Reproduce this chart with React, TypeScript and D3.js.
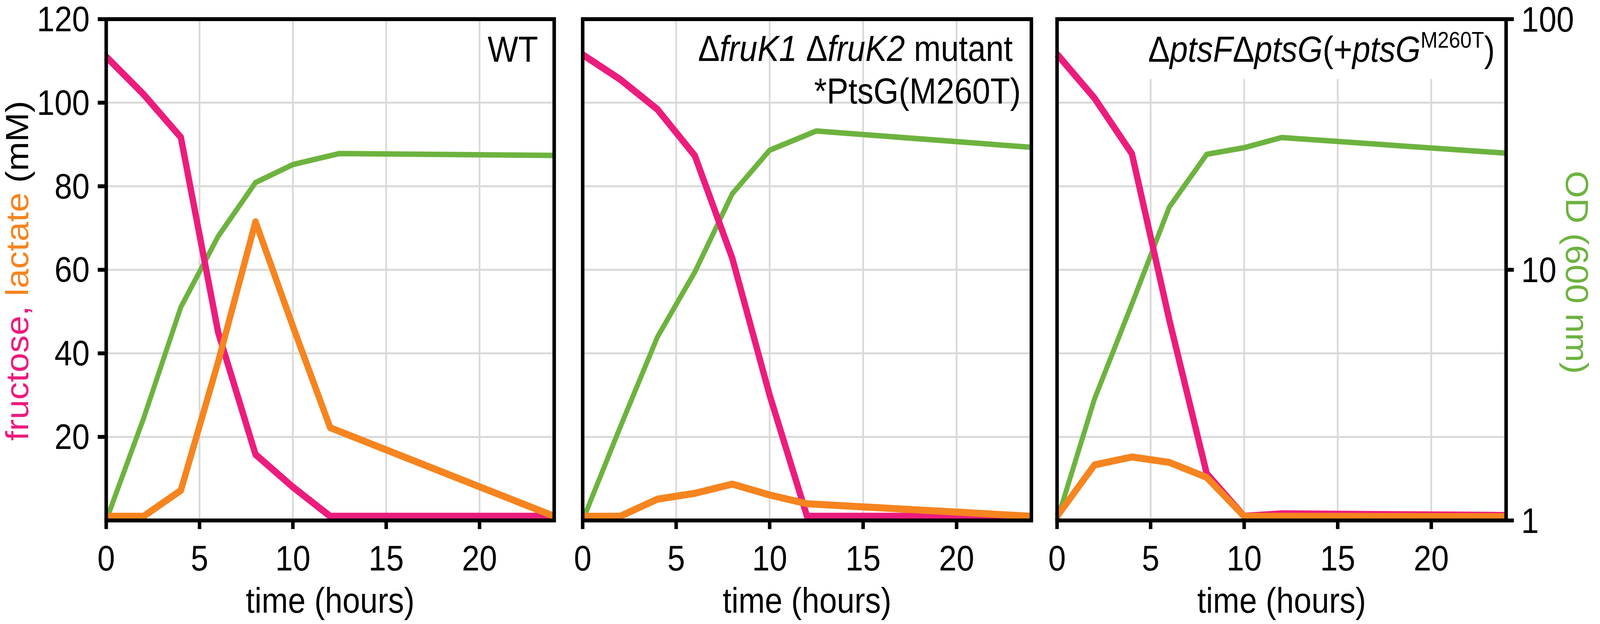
import React from "react";
import * as d3 from "d3";

// ---------- data ----------
const xTicks = [0, 5, 10, 15, 20];
const leftTicks = [20, 40, 60, 80, 100, 120];
const gridValues = [20, 40, 60, 80, 100];
const odTicks = [1, 10, 100];

// Panel 1: WT
const wtFructoseT = [0, 2, 4, 6, 8, 10, 12, 24];
const wtFructose = [111, 102, 91.7, 45, 15.8, 8, 1, 1];
const wtLactateT = [0, 2, 4, 6, 8, 10, 12, 24];
const wtLactate = [1, 1, 7.2, 38, 71.5, 46.5, 22.2, 1];
const wtOdT = [0, 2, 4, 6, 8, 10, 12.5, 24];
const wtOd = [1, 2.55, 7.1, 13.6, 22.3, 26.3, 29.1, 28.6];

// Panel 2: ΔfruK1 ΔfruK2 mutant *PtsG(M260T)
const fkFructoseT = [0, 2, 4, 6, 8, 10, 12, 24];
const fkFructose = [111.5, 105.6, 98.4, 87.3, 62.8, 30, 1, 1];
const fkLactateT = [0, 2, 4, 6, 8, 10, 12, 24];
const fkLactate = [1, 1, 5.1, 6.5, 8.7, 6.1, 4.0, 1];
const fkOdT = [0, 2, 4, 6, 8, 10, 12.5, 24];
const fkOd = [1, 2.35, 5.4, 9.8, 20.1, 30.0, 35.8, 30.8];

// Panel 3: ΔptsFΔptsG(+ptsG M260T)
const ptFructoseT = [0, 2, 4, 6, 8, 10, 12, 24];
const ptFructose = [111.6, 101.1, 87.8, 48, 11.2, 1, 1.6, 1.2];
const ptLactateT = [0, 2, 4, 6, 8, 10, 24];
const ptLactate = [1, 13.3, 15.2, 13.9, 10.3, 1, 0.9];
const ptOdT = [0, 2, 4, 6, 8, 10, 12, 24];
const ptOd = [1, 3.05, 7.3, 17.8, 28.9, 30.7, 33.7, 29.2];

// ---------- style ----------
const PINK = "#EC1C7D";
const ORANGE = "#F6841F";
const GREEN = "#6DB33F";
const GRID = "#d9d9d9";
const FONT = "'Liberation Sans', Arial, Helvetica, sans-serif";
const FS = 90;

const W = 4550;
const H = 1597;
const TOP = 49;
const BOTTOM = 1332;

const panels = [
  { x0: 302, x1: 1576, fT: wtFructoseT, f: wtFructose, lT: wtLactateT, l: wtLactate, oT: wtOdT, o: wtOd },
  { x0: 1657, x1: 2933, fT: fkFructoseT, f: fkFructose, lT: fkLactateT, l: fkLactate, oT: fkOdT, o: fkOd },
  { x0: 3006, x1: 4283, fT: ptFructoseT, f: ptFructose, lT: ptLactateT, l: ptLactate, oT: ptOdT, o: ptOd },
];

const yLin = d3.scaleLinear().domain([0, 120]).range([BOTTOM, TOP]);
const yLog = d3.scaleLog().domain([1, 100]).range([BOTTOM, TOP]);

function Panel({ p, idx }: { p: any; idx: number }) {
  const x = d3.scaleLinear().domain([0, 24]).range([p.x0, p.x1]);
  const lineLin = d3
    .line<[number, number]>()
    .x((d) => x(d[0]))
    .y((d) => yLin(d[1]));
  const lineLog = d3
    .line<[number, number]>()
    .x((d) => x(d[0]))
    .y((d) => yLog(d[1]));
  const fr = p.fT.map((t: number, i: number) => [t, p.f[i]] as [number, number]);
  const la = p.lT.map((t: number, i: number) => [t, p.l[i]] as [number, number]);
  const od = p.oT.map((t: number, i: number) => [t, p.o[i]] as [number, number]);

  return (
    <g>
      {/* grid */}
      {gridValues.map((v) => (
        <line key={"gy" + v} x1={p.x0} x2={p.x1} y1={yLin(v)} y2={yLin(v)} stroke={GRID} strokeWidth={5} />
      ))}
      {xTicks
        .filter((t) => t > 0)
        .map((t) => (
          <line key={"gx" + t} x1={x(t)} x2={x(t)} y1={TOP} y2={BOTTOM} stroke={GRID} strokeWidth={5} />
        ))}
      {idx === 2 && <rect x={3240} y={TOP + 5} width={1030} height={148} fill="#fff" />}

      {/* labels inside */}
      {idx === 0 && (
        <text x={1530} y={158} textAnchor="end" fontSize={92} fontFamily={FONT} fill="#000">
          WT
        </text>
      )}
      {idx === 1 && (
        <g fontSize={92} fontFamily={FONT} fill="#000">
          <text x={2880} y={156} textAnchor="end">
            <tspan>Δ</tspan>
            <tspan fontStyle="italic">fruK1</tspan>
            <tspan>{" Δ"}</tspan>
            <tspan fontStyle="italic">fruK2</tspan>
            <tspan>{" mutant"}</tspan>
          </text>
          <text x={2903} y={265} textAnchor="end">
            *PtsG(M260T)
          </text>
        </g>
      )}
      {idx === 2 && (
        <text x={4251} y={158} textAnchor="end" fontSize={92} fontFamily={FONT} fill="#000">
          <tspan>Δ</tspan>
          <tspan fontStyle="italic">ptsF</tspan>
          <tspan>Δ</tspan>
          <tspan fontStyle="italic">ptsG</tspan>
          <tspan>(+</tspan>
          <tspan fontStyle="italic">ptsG</tspan>
          <tspan fontSize={58} dy={-36}>
            M260T
          </tspan>
          <tspan dy={36}>)</tspan>
        </text>
      )}

      {/* data */}
      <path d={lineLog(od) || ""} fill="none" stroke={GREEN} strokeWidth={14} strokeLinejoin="round" />
      <path d={lineLin(fr) || ""} fill="none" stroke={PINK} strokeWidth={18} strokeLinejoin="round" />
      <path d={lineLin(la) || ""} fill="none" stroke={ORANGE} strokeWidth={18} strokeLinejoin="round" />

      {/* frame */}
      <rect x={p.x0} y={TOP} width={p.x1 - p.x0} height={BOTTOM - TOP} fill="none" stroke="#000" strokeWidth={10} />

      {/* bottom ticks */}
      {xTicks.map((t) => (
        <g key={"xt" + t}>
          <line x1={x(t)} x2={x(t)} y1={BOTTOM} y2={1354} stroke="#000" strokeWidth={10} />
          <text x={x(t)} y={1460} textAnchor="middle" fontSize={FS} fontFamily={FONT} fill="#000">
            {t}
          </text>
        </g>
      ))}
      <text x={(p.x0 + p.x1) / 2} y={1568} textAnchor="middle" fontSize={FS} fontFamily={FONT} fill="#000">
        time (hours)
      </text>

      {/* left axis */}
      {idx === 0 &&
        leftTicks.map((v) => (
          <g key={"yt" + v}>
            <line x1={278} x2={p.x0} y1={yLin(v)} y2={yLin(v)} stroke="#000" strokeWidth={10} />
            <text x={255} y={yLin(v) + 31} textAnchor="end" fontSize={FS} fontFamily={FONT} fill="#000">
              {v}
            </text>
          </g>
        ))}

      {/* right axis */}
      {idx === 2 &&
        odTicks.map((v) => (
          <g key={"od" + v}>
            <line x1={p.x1} x2={4305} y1={yLog(v)} y2={yLog(v)} stroke="#000" strokeWidth={10} />
            <text x={4326} y={yLog(v) + 32} textAnchor="start" fontSize={FS} fontFamily={FONT} fill="#000">
              {v}
            </text>
          </g>
        ))}
    </g>
  );
}

export default function App() {
  return (
    <svg
      viewBox={`0 0 ${W} ${H}`}
      preserveAspectRatio="none"
      style={{ position: "fixed", left: 0, top: 0, width: "100vw", height: "100vh", display: "block", background: "#fff" }}
    >
      <rect x={0} y={0} width={W} height={H} fill="#fff" />
      {panels.map((p, i) => (
        <Panel key={i} p={p} idx={i} />
      ))}
      <text transform="translate(80,693) rotate(-90)" textAnchor="middle" fontSize={FS} fontFamily={FONT}>
        <tspan fill={PINK}>fructose,</tspan>
        <tspan fill={ORANGE}>{" lactate"}</tspan>
        <tspan fill="#000">{" (mM)"}</tspan>
      </text>
      <text transform="translate(4453,697) rotate(90)" textAnchor="middle" fontSize={FS} fontFamily={FONT} fill={GREEN}>
        OD (600 nm)
      </text>
    </svg>
  );
}
